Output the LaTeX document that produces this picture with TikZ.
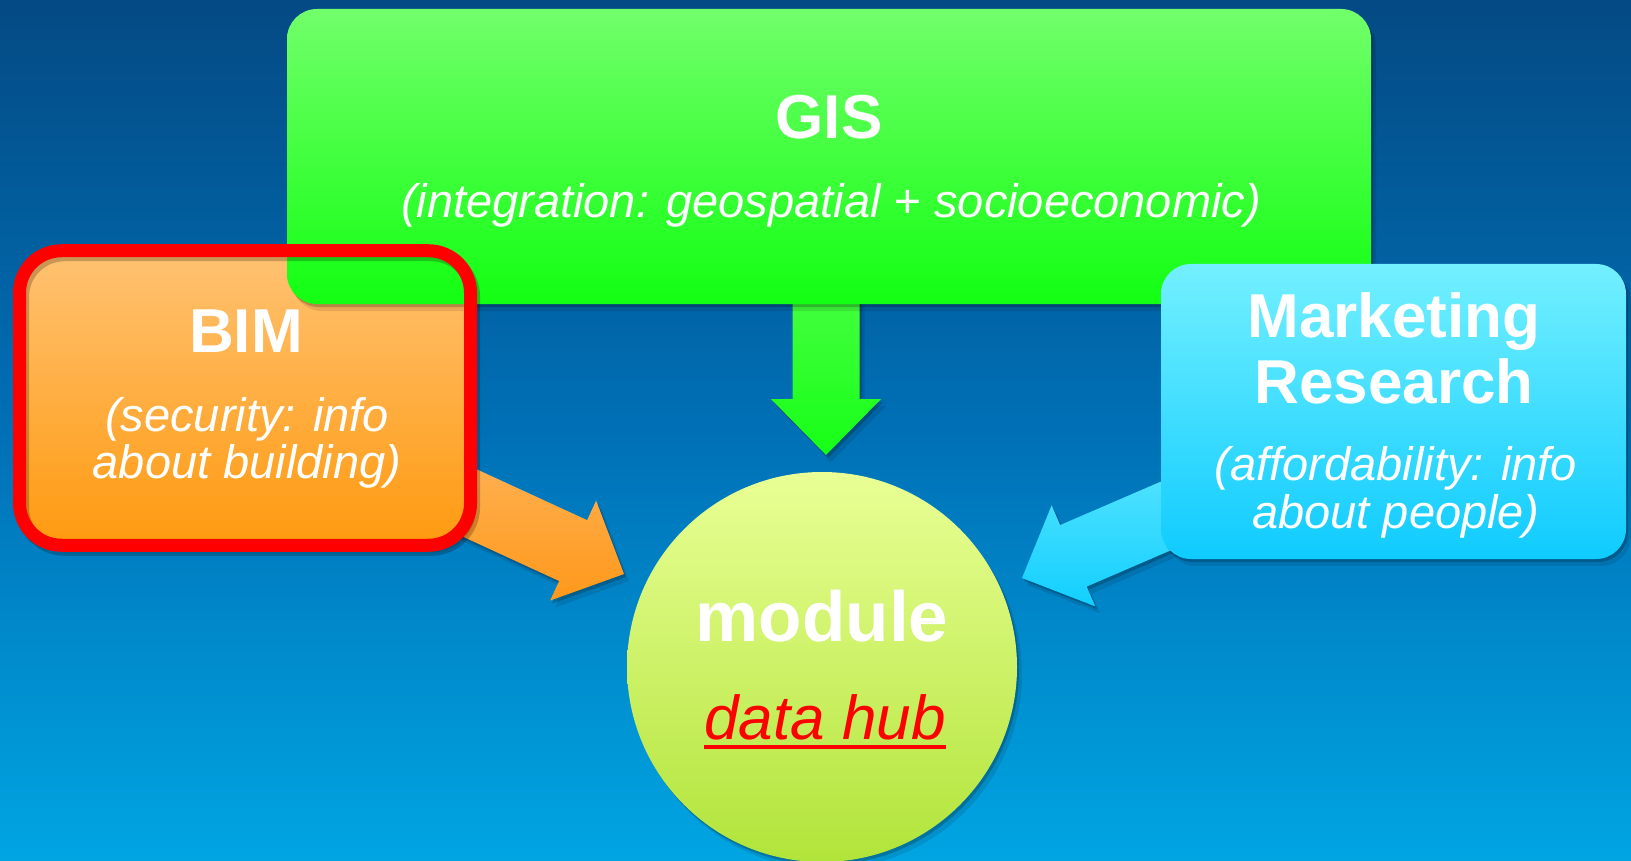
\documentclass[tikz,border=0pt]{standalone}
\usepackage{fontspec}
\setmainfont{Liberation Sans}
\usetikzlibrary{calc,shadows}

\definecolor{bgtop}{HTML}{044A84}
\definecolor{bgmid}{HTML}{0070B6}
\definecolor{bgbot}{HTML}{00A5E2}
\definecolor{gistop}{HTML}{72FF6B}
\definecolor{gisbot}{HTML}{12FF12}
\definecolor{bimtop}{HTML}{FFC272}
\definecolor{bimbot}{HTML}{FF9A10}
\definecolor{mrtop}{HTML}{73F0FF}
\definecolor{mrbot}{HTML}{0FCBFF}
\definecolor{hubtop}{HTML}{E9FF95}
\definecolor{hubbot}{HTML}{B1E43A}
\definecolor{ringred}{HTML}{FF0000}
\definecolor{garrtop}{HTML}{4DFF47}
\definecolor{garrbot}{HTML}{16FF16}
\definecolor{oarrtop}{HTML}{FFB45A}
\definecolor{oarrbot}{HTML}{FF981A}
\definecolor{carrtop}{HTML}{5CE6FF}
\definecolor{carrbot}{HTML}{12CFFF}

% block arrow: #1 style, #2 tail, #3 tip
\newcommand\blockarrow[3]{%
  \coordinate (ba-hb) at ($(#3)!56pt!(#2)$);
  \path[#1] ($(#2)!33.5pt!90:(#3)$) -- ($(ba-hb)!33.5pt!90:(#3)$)
    -- ($(ba-hb)!55pt!90:(#3)$) -- (#3) -- ($(ba-hb)!55pt!-90:(#3)$)
    -- ($(ba-hb)!33.5pt!-90:(#3)$) -- ($(#2)!33.5pt!-90:(#3)$) -- cycle;}

\tikzset{
  softshadow/.style={
    general shadow={fill=black,opacity=.20,shadow xshift=2pt,shadow yshift=-3pt},
    general shadow={fill=black,opacity=.10,shadow xshift=5pt,shadow yshift=-7pt}},
  box/.style={rectangle, rounded corners=30pt, inner sep=0pt, outer sep=0pt, softshadow},
  title/.style={text=white, font=\fontsize{62}{62}\selectfont\bfseries, anchor=base, inner sep=0pt},
  sub/.style={text=white, font=\fontsize{47}{47}\selectfont\itshape, anchor=base, inner sep=0pt},
  ring/.style={draw=ringred, line width=13pt, rounded corners=42pt,
    general shadow={draw=black, line width=13pt, opacity=.22, shadow xshift=3pt, shadow yshift=-4pt}},
  greenarrow/.style={top color=garrtop, bottom color=garrbot, softshadow},
  orangearrow/.style={top color=oarrtop, bottom color=oarrbot, softshadow},
  cyanarrow/.style={top color=carrtop, bottom color=carrbot, softshadow},
}

\begin{document}
\begin{tikzpicture}[x=1pt,y=-1pt]
\useasboundingbox (0,0) rectangle (1631,861);
% backdrop
\shade[top color=bgtop, bottom color=bgmid] (0,0) rectangle (1631,431);
\shade[top color=bgmid, bottom color=bgbot] (0,430) rectangle (1631,861);

% anchor points of the block arrows
\coordinate (gis-tail) at (826,260);
\coordinate (gis-tip)  at (826,455);
\coordinate (bim-tail) at (397,469.5);
\coordinate (bim-tip)  at (624,574);
\coordinate (mr-tail)  at (1251.5,479);
\coordinate (mr-tip)   at (1022,578);

\blockarrow{greenarrow}{gis-tail}{gis-tip}
\blockarrow{orangearrow}{bim-tail}{bim-tip}
\blockarrow{cyanarrow}{mr-tail}{mr-tip}

% boxes
\node[box, rounded corners=42pt, minimum width=451pt, minimum height=294.5pt,
      top color=bimtop, bottom color=bimbot] (bim) at (245,398) {};
\node[box, minimum width=1084pt, minimum height=295pt,
      top color=gistop, bottom color=gisbot] (gis) at (829,156.5) {};
\node[box, minimum width=465pt, minimum height=295pt,
      top color=mrtop, bottom color=mrbot] (mr) at (1393.5,411.5) {};
\draw[ring] (bim.north west) rectangle (bim.south east);

% hub
\node[circle, minimum size=390pt, inner sep=0pt, top color=hubtop, bottom color=hubbot,
      softshadow] (hub) at (822,667) {};

% labels
\node[title] (gis-t) at (829,139) {GIS};
\node[sub] (gis-s) at (831,218) {(integration: geospatial + socioeconomic)};
\node[title] (bim-t) at (246,352) {BIM};
\node[sub] (bim-s1) at (247,431) {(security: info};
\node[sub] (bim-s2) at (247,478) {about building)};
\node[title] (mr-t1) at (1394,337) {Marketing};
\node[title] (mr-t2) at (1394,403) {Research};
\node[sub] (mr-s1) at (1396,480) {(affordability: info};
\node[sub] (mr-s2) at (1396,528) {about people)};
\node[text=white, font=\fontsize{71}{71}\selectfont\bfseries, anchor=base, inner sep=0pt]
  (hub-t) at (822,641) {module};
\node[text=red, font=\fontsize{62}{62}\selectfont\itshape, anchor=base, inner sep=0pt]
  (hub-s) at (825,739) {data hub};
\draw[red, line width=3.5pt] ([yshift=-8pt]hub-s.base west) -- ([yshift=-8pt]hub-s.base east);
\end{tikzpicture}
\end{document}
